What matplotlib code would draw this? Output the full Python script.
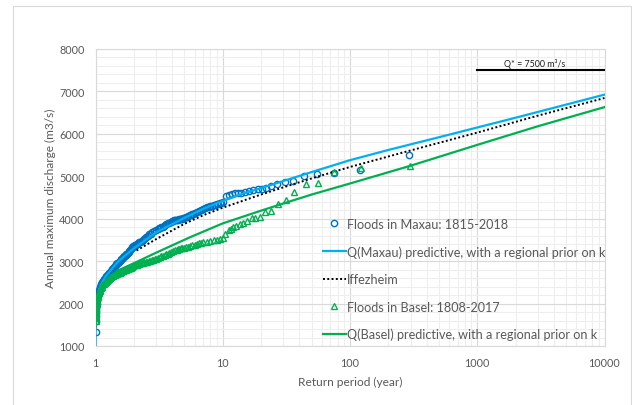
import matplotlib
matplotlib.use("Agg")
import matplotlib.pyplot as plt
from matplotlib.patches import Rectangle
from matplotlib.ticker import LogLocator, MultipleLocator, FixedLocator

plt.rcParams["font.family"] = ["Lato", "DejaVu Sans"]

# observed floods in Maxau (return period in years, discharge in m3/s)
maxau_T = [1.0, 1.002, 1.004, 1.006, 1.008, 1.01, 1.013, 1.016, 1.02, 1.025, 1.03, 1.035,
           1.04, 1.045, 1.05, 1.06, 1.07, 1.08, 1.09, 1.1, 1.11, 1.12, 1.135, 1.15, 1.165,
           1.18, 1.2, 1.215, 1.23, 1.245, 1.26, 1.28, 1.3, 1.32, 1.34, 1.36, 1.38, 1.4,
           1.42, 1.44, 1.46, 1.48, 1.5, 1.53, 1.55, 1.58, 1.6, 1.63, 1.65, 1.68, 1.7, 1.73,
           1.75, 1.78, 1.8, 1.83, 1.85, 1.88, 1.9, 1.93, 1.95, 1.98, 2.0, 2.03, 2.05, 2.08,
           2.1, 2.15, 2.2, 2.25, 2.3, 2.35, 2.4, 2.45, 2.5, 2.58, 2.65, 2.72, 2.8, 2.9, 3.0,
           3.08, 3.15, 3.22, 3.3, 3.38, 3.45, 3.52, 3.6, 3.7, 3.8, 3.9, 4.0, 4.08, 4.15,
           4.22, 4.3, 4.38, 4.45, 4.52, 4.6, 4.7, 4.8, 4.9, 5.0, 5.12, 5.25, 5.38, 5.5,
           5.62, 5.75, 5.88, 6.0, 6.25, 6.5, 6.75, 7.0, 7.25, 7.5, 7.75, 8.0, 8.25, 8.5,
           8.75, 9.0, 9.25, 9.5, 9.75, 10.0, 10.7, 11.2, 11.8, 12.5, 13.2, 14.0, 15.0,
           16.0, 17.4, 19.0, 20.5, 22.0, 24.0, 26.6, 30.9, 35.9, 43.6, 54.7, 75.4, 120.0,
           290.0]
maxau_Q = [1340, 1600, 1700, 1780, 1830, 1870, 1910, 1950, 2000, 2050, 2100, 2130,
           2170, 2200, 2230, 2280, 2330, 2370, 2400, 2430, 2450, 2480, 2510, 2540, 2570,
           2590, 2620, 2640, 2660, 2680, 2700, 2720, 2750, 2770, 2800, 2820, 2850, 2870,
           2890, 2910, 2930, 2945, 2960, 2990, 3000, 3030, 3050, 3070, 3090, 3110, 3120,
           3140, 3160, 3180, 3200, 3220, 3240, 3260, 3280, 3310, 3330, 3350, 3360, 3370,
           3380, 3390, 3400, 3420, 3440, 3460, 3480, 3500, 3530, 3550, 3580, 3600, 3630,
           3650, 3680, 3710, 3740, 3755, 3770, 3785, 3800, 3815, 3830, 3850, 3870, 3890,
           3910, 3925, 3940, 3950, 3960, 3965, 3970, 3975, 3980, 3985, 3990, 3995, 4000,
           4010, 4020, 4035, 4050, 4065, 4080, 4095, 4110, 4120, 4130, 4160, 4190, 4210,
           4230, 4250, 4265, 4280, 4290, 4305, 4320, 4330, 4340, 4355, 4370, 4380, 4390,
           4530, 4565, 4582, 4595, 4605, 4615, 4630, 4650, 4680, 4700, 4710, 4725, 4760,
           4818, 4858, 4882, 5000, 5054, 5080, 5148, 5502]

# observed floods in Basel
basel_T = [1.0, 1.0005, 1.001, 1.002, 1.004, 1.006, 1.008, 1.01, 1.013, 1.016, 1.02,
           1.025, 1.03, 1.035, 1.04, 1.045, 1.05, 1.06, 1.07, 1.08, 1.09, 1.1, 1.11, 1.12,
           1.135, 1.15, 1.165, 1.18, 1.2, 1.225, 1.25, 1.275, 1.3, 1.325, 1.35, 1.375, 1.4,
           1.425, 1.45, 1.475, 1.5, 1.53, 1.55, 1.58, 1.6, 1.63, 1.65, 1.68, 1.7, 1.73,
           1.75, 1.78, 1.8, 1.83, 1.85, 1.88, 1.9, 1.93, 1.95, 1.98, 2.0, 2.05, 2.1, 2.15,
           2.2, 2.25, 2.3, 2.35, 2.4, 2.48, 2.55, 2.62, 2.7, 2.78, 2.85, 2.92, 3.0, 3.1,
           3.2, 3.3, 3.4, 3.5, 3.6, 3.7, 3.8, 3.92, 4.05, 4.2, 4.35, 4.45, 4.55, 4.68, 4.8,
           4.95, 5.1, 5.3, 5.5, 5.75, 6.0, 6.25, 6.5, 6.75, 7.0, 7.5, 8.0, 8.5, 9.0, 9.5,
           10.0, 10.5, 11.1, 11.6, 12.1, 12.8, 13.7, 14.5, 15.4, 16.9, 18.0, 19.6, 21.6,
           24.0, 27.4, 31.2, 36.5, 45.0, 55.6, 75.4, 122.0, 297.0]
basel_Q = [1600, 1650, 1680, 1720, 1780, 1820, 1860, 1880, 1910, 1950, 1990,
           2030, 2080, 2110, 2150, 2175, 2200, 2240, 2270, 2300, 2330, 2360, 2380, 2400,
           2430, 2450, 2470, 2480, 2500, 2530, 2560, 2580, 2600, 2620, 2640, 2655, 2670,
           2680, 2690, 2700, 2710, 2720, 2730, 2740, 2750, 2760, 2770, 2780, 2790, 2800,
           2805, 2815, 2820, 2830, 2835, 2845, 2850, 2860, 2870, 2885, 2900, 2910, 2920, 2930,
           2940, 2948, 2955, 2962, 2970, 2980, 2990, 3000, 3010, 3020, 3030, 3045, 3060, 3080,
           3100, 3115, 3130, 3150, 3160, 3180, 3200, 3220, 3240, 3255, 3270, 3280, 3290, 3300,
           3310, 3320, 3330, 3345, 3360, 3375, 3390, 3405, 3420, 3430, 3440, 3460, 3480,
           3500, 3510, 3530, 3545, 3640, 3734, 3760, 3797, 3830, 3875, 3910, 3953, 4009,
           4020, 4033, 4165, 4189, 4347, 4448, 4637, 4818, 4834, 5090, 5187, 5250]

# predictive quantile curves
maxau_fit_T = [1.0008, 1.002, 1.005, 1.01, 1.02, 1.05, 1.1, 1.2, 1.5, 2, 3, 5, 7, 10,
               15, 20, 30, 50, 100, 200, 500, 1000, 2000, 5000, 10000]
maxau_fit_Q = [980, 1350, 1700, 1880, 2030, 2260, 2440, 2640, 2990, 3300, 3680, 4020,
               4230, 4420, 4610, 4720, 4890, 5100, 5380, 5620, 5920, 6150, 6380, 6690, 6925]

iff_T = [2.1, 3, 5, 7, 10, 20, 30, 50, 100, 300, 1000, 3000, 10000]
iff_Q = [3250, 3520, 3880, 4080, 4260, 4570, 4740, 4950, 5220, 5610, 6030, 6430, 6845]

basel_fit_T = [1.002, 1.005, 1.01, 1.02, 1.05, 1.1, 1.2, 1.5, 2, 3, 5.5, 10, 20, 30,
               50, 100, 300, 1000, 3000, 10000]
basel_fit_Q = [1450, 1700, 1850, 1990, 2180, 2350, 2530, 2780, 2950, 3200, 3560, 3890,
               4190, 4360, 4570, 4830, 5250, 5740, 6180, 6630]

labels = ["Floods in Maxau: 1815-2018",
          "Q(Maxau) predictive, with a regional prior on k",
          "Iffezheim",
          "Floods in Basel: 1808-2017",
          "Q(Basel) predictive, with a regional prior on k"]

grey = "#595959"

fig = plt.figure(figsize=(6.32, 4.06), dpi=100)
fig.patches.append(Rectangle((13 / 632, -0.1), (631 - 13) / 632, 1.1 - 7 / 406,
                             transform=fig.transFigure, fill=False,
                             edgecolor="#d9d9d9", linewidth=0.8))

ax = fig.add_axes([95.5 / 632, 1 - 347 / 406, 509 / 632, 297 / 406])
ax.set_xscale("log")
ax.set_xlim(1, 10000)
ax.set_ylim(1000, 8000)

p1, = ax.plot(maxau_T, maxau_Q, "o", ms=4.5, mfc="none", mec="#0070c0", mew=1.0, zorder=3)
p2, = ax.plot(maxau_fit_T, maxau_fit_Q, color="#00b0f0", lw=1.6, zorder=4)
p3, = ax.plot(iff_T, iff_Q, color="black", lw=1.4, ls=(0, (1, 1.2)), zorder=5)
p4, = ax.plot(basel_T, basel_Q, "^", ms=4.5, mfc="none", mec="#00b050", mew=1.0, zorder=6)
p5, = ax.plot(basel_fit_T, basel_fit_Q, color="#00b050", lw=1.6, zorder=7)

# design discharge marker
ax.plot([1000, 10000], [7500, 7500], color="black", lw=1.5, zorder=5)
ax.text(2800, 7560, "Q* = 7500 m³/s", fontsize=6.4, ha="center", va="bottom", color="#202020")

ax.xaxis.set_major_locator(FixedLocator([1, 10, 100, 1000, 10000]))
ax.xaxis.set_minor_locator(LogLocator(base=10, subs=range(2, 10)))
ax.set_xticklabels(["1", "10", "100", "1000", "10000"])
ax.yaxis.set_major_locator(MultipleLocator(1000))
ax.yaxis.set_minor_locator(MultipleLocator(200))
ax.grid(which="major", color="#d9d9d9", lw=0.8)
ax.grid(which="minor", color="#eeeeee", lw=0.8)
ax.set_axisbelow(True)
for s in ax.spines.values():
    s.set_color("#d9d9d9")
    s.set_linewidth(0.8)
ax.tick_params(which="both", length=0, labelsize=7.8, colors=grey)
ax.tick_params(axis="y", pad=8)
ax.tick_params(axis="x", pad=8)

ax.set_xlabel("Return period (year)", fontsize=8.6, color=grey, labelpad=6)
ax.set_ylabel("Annual maximum discharge (m3/s)", fontsize=8.6, color=grey, labelpad=2)

ax.legend([p1, p2, p3, p4, p5], labels, loc="upper left", bbox_to_anchor=(0.446, 0.432),
          frameon=False, fontsize=9.1, labelcolor=grey, borderpad=0, borderaxespad=0,
          handlelength=1.85, handletextpad=0.1, labelspacing=1.22, numpoints=1)

fig.savefig("out.png", dpi=100)
